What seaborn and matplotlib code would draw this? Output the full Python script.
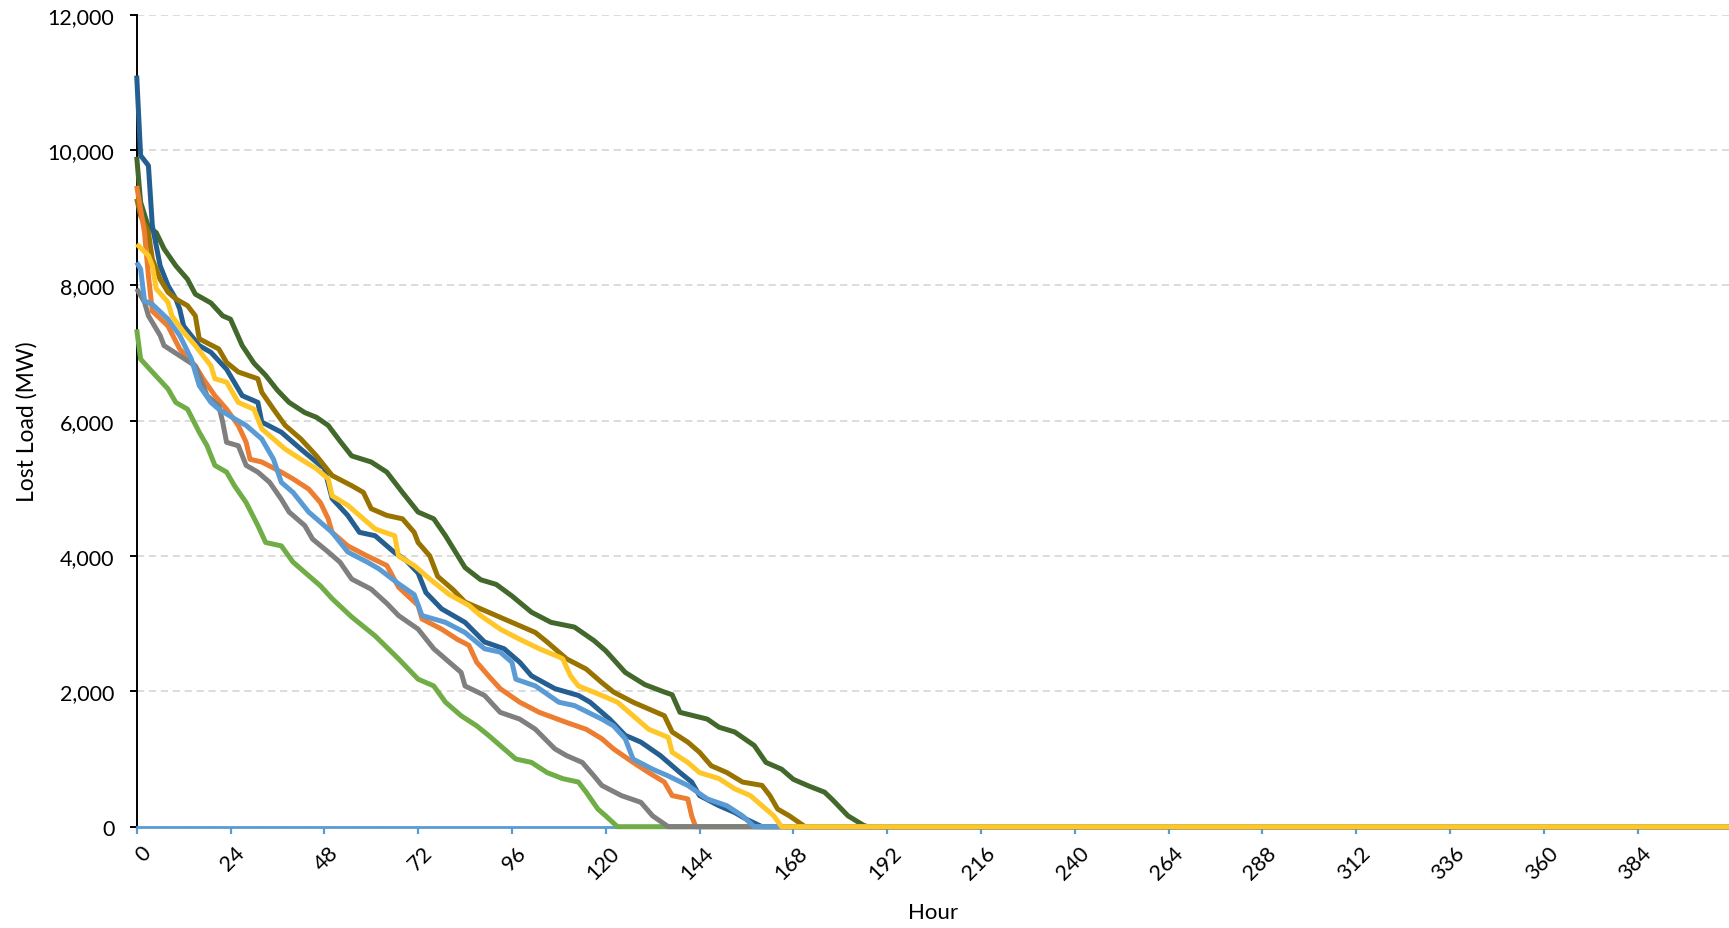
import matplotlib
matplotlib.use("Agg")
import matplotlib.pyplot as plt
import matplotlib.transforms as mtransforms
from matplotlib.ticker import FuncFormatter
import seaborn as sns
import pandas as pd

# ---- data (hour, lost load MW) ----
dark_green_h = [0,1,3,5,7,10,13,15,19,22,24,27,30,33,36,39,43,46,49,52,55,60,64,68,72,76,79,84,88,92,96,101,106,112,117,120,125,130,135,137,139,146,149,153,158,161,165,168,172,176,178,182,186,187,408]
dark_green_v = [9900,9230,8860,8780,8540,8290,8090,7870,7740,7550,7500,7110,6850,6670,6450,6270,6120,6050,5930,5700,5480,5390,5240,4940,4650,4550,4300,3830,3650,3580,3410,3170,3020,2950,2750,2600,2280,2100,1990,1950,1690,1590,1470,1400,1200,950,850,700,600,510,400,160,20,0,0]

olive_h = [0,1,3,4,6,8,10,13,15,16,21,23,26,31,32,35,38,42,46,50,55,58,60,64,68,71,72,75,77,81,84,90,96,102,105,110,115,119,122,127,133,135,137,141,144,147,151,155,160,162,164,167,171,408]
olive_v = [9280,9030,8780,8390,8090,7900,7800,7700,7550,7210,7060,6860,6720,6620,6420,6170,5930,5730,5480,5190,5040,4940,4700,4600,4550,4350,4200,4000,3700,3500,3320,3170,3020,2870,2730,2480,2330,2130,1990,1840,1690,1640,1400,1250,1100,900,800,660,610,460,260,160,0,0]

dark_blue_h = [0,1,3,4,6,8,10,11,12,16,19,23,27,31,32,37,42,47,48,50,54,57,61,66,69,72,74,78,84,89,94,98,101,107,113,116,121,125,129,134,139,142,144,149,153,156,160,408]
dark_blue_v = [11100,9920,9770,8880,8290,8000,7800,7650,7400,7110,7010,6760,6370,6270,5980,5830,5580,5340,5300,4850,4600,4350,4300,4050,3930,3750,3460,3220,3020,2730,2630,2430,2230,2040,1940,1840,1590,1350,1250,1050,800,660,460,310,210,110,0,0]

orange_h = [0,2,3,4,8,11,15,17,20,23,26,28,29,32,37,40,44,47,49,50,54,59,64,67,72,73,78,82,85,87,90,93,98,103,110,115,119,122,127,131,135,137,141,142,143,408]
orange_v = [9470,8780,8140,7620,7400,7060,6810,6620,6370,6170,5930,5680,5430,5390,5240,5140,4990,4790,4550,4350,4150,4000,3860,3540,3270,3070,2920,2770,2680,2430,2230,2040,1840,1690,1540,1440,1300,1150,950,800,660,460,410,160,0,0]

green_h = [0,1,4,8,10,13,16,18,20,23,25,28,31,33,37,40,43,47,50,55,61,67,72,76,79,83,87,90,93,97,101,105,109,113,115,118,120,123,408]
green_v = [7350,6910,6720,6470,6270,6170,5830,5630,5340,5240,5040,4790,4450,4200,4150,3910,3760,3560,3370,3100,2820,2480,2180,2080,1840,1640,1490,1350,1200,1000,950,800,710,660,510,260,160,0,0]

gray_h = [0,2,3,6,7,11,15,16,18,21,22,23,26,28,31,34,37,39,43,45,49,52,55,60,64,67,72,76,79,83,84,89,93,98,102,107,110,114,117,119,124,129,132,136,408]
gray_v = [7950,7750,7550,7260,7110,6960,6810,6670,6370,6220,5980,5680,5630,5340,5240,5090,4840,4650,4450,4250,4060,3910,3660,3510,3300,3120,2920,2630,2480,2280,2080,1940,1690,1590,1440,1150,1050,950,750,610,460,360,160,0,0]

light_blue_h = [0,1,2,4,8,11,14,16,19,21,25,28,32,35,37,40,44,47,50,54,59,62,67,71,73,79,84,89,93,96,97,102,108,112,119,122,125,127,132,136,141,146,151,155,158,408]
light_blue_v = [8340,8240,7770,7720,7500,7260,6910,6520,6270,6170,6030,5930,5730,5430,5090,4940,4650,4500,4350,4060,3910,3810,3590,3430,3120,3020,2870,2630,2580,2430,2180,2080,1840,1790,1590,1490,1300,1000,850,750,610,410,310,160,0,0]

yellow_h = [0,3,4,5,8,9,12,15,19,20,23,26,30,32,35,38,42,46,49,50,54,57,61,66,67,71,75,80,85,88,93,98,103,108,109,111,113,119,123,127,131,136,137,141,144,149,153,157,160,163,165,408]
yellow_v = [8610,8440,8290,7950,7750,7550,7310,7110,6810,6620,6570,6270,6170,5880,5730,5580,5430,5290,5140,4890,4750,4600,4400,4300,4000,3860,3660,3430,3270,3120,2920,2770,2630,2510,2480,2230,2080,1940,1840,1640,1440,1320,1100,950,800,710,560,460,310,160,0,0]

# drawing order: first = bottom
series = [
    (dark_green_h, dark_green_v, "#43682B"),
    (dark_blue_h, dark_blue_v, "#255E91"),
    (olive_h, olive_v, "#997300"),
    (orange_h, orange_v, "#ED7D31"),
    (green_h, green_v, "#70AD47"),
    (gray_h, gray_v, "#7F7F7F"),
    (light_blue_h, light_blue_v, "#5B9BD5"),
    (yellow_h, yellow_v, "#FFC628"),
]

x_ticks = list(range(0, 385, 24))
y_ticks = [0, 2000, 4000, 6000, 8000, 10000, 12000]

sns.set_theme(style="white")
plt.rcParams["font.family"] = ["Lato", "DejaVu Sans"]
plt.rcParams["lines.linewidth"] = 3.6

W, H = 1729, 929
fig = plt.figure(figsize=(W / 100, H / 100), dpi=100)
ax = fig.add_axes([136.7 / W, 101.3 / H, 1 - 136.7 / W, 812.0 / H])

for i, (hh, vv, col) in enumerate(series):
    df = pd.DataFrame({"Hour": hh, "Lost Load (MW)": vv})
    sns.lineplot(data=df, x="Hour", y="Lost Load (MW)", ax=ax, color=col,
                 estimator=None, sort=False, lw=3.6)
    ln = ax.get_lines()[-1]
    ln.set_linewidth(3.6)
    ln.set_zorder(3 + i)
    ln.set_clip_on(False)
    ln.set_solid_joinstyle("round")
    ln.set_solid_capstyle("butt")

ax.set_xlim(0, 407.4)
ax.set_ylim(0, 12000)
ax.set_xticks(x_ticks)
ax.set_yticks(y_ticks)
ax.yaxis.set_major_formatter(FuncFormatter(lambda v, p: f"{int(v):,}"))

ax.grid(axis="y", color="#D9D9D9", linestyle=(0, (4, 2.6)), linewidth=1.3, zorder=0)
ax.grid(axis="x", visible=False)

for s in ["top", "right"]:
    ax.spines[s].set_visible(False)
ax.spines["left"].set_color("black")
ax.spines["left"].set_linewidth(1.4)
ax.spines["left"].set_zorder(2)
ax.spines["bottom"].set_color("#5B9BD5")
ax.spines["bottom"].set_linewidth(2.0)

ax.tick_params(axis="y", which="major", direction="out", length=5, width=1.4,
               color="black", pad=11, labelsize=15.5, labelcolor="black", left=True)
ax.tick_params(axis="x", which="major", direction="out", length=5, width=1.6,
               color="#5B9BD5", pad=6, labelsize=15.5, labelcolor="black", bottom=True)

offset = mtransforms.ScaledTranslation(4 / 100, 0, fig.dpi_scale_trans)
for lab in ax.get_xticklabels():
    lab.set_rotation(45)
    lab.set_ha("right")
    lab.set_va("top")
    lab.set_rotation_mode("anchor")
    lab.set_transform(lab.get_transform() + offset)

ax.set_xlabel("Hour", fontsize=16, color="black")
ax.set_ylabel("Lost Load (MW)", fontsize=16.5, color="black")
ax.xaxis.set_label_coords(0.5, -0.093)
ax.yaxis.set_label_coords(-0.062, 0.5)

fig.savefig("out.png", dpi=100, facecolor="white")
